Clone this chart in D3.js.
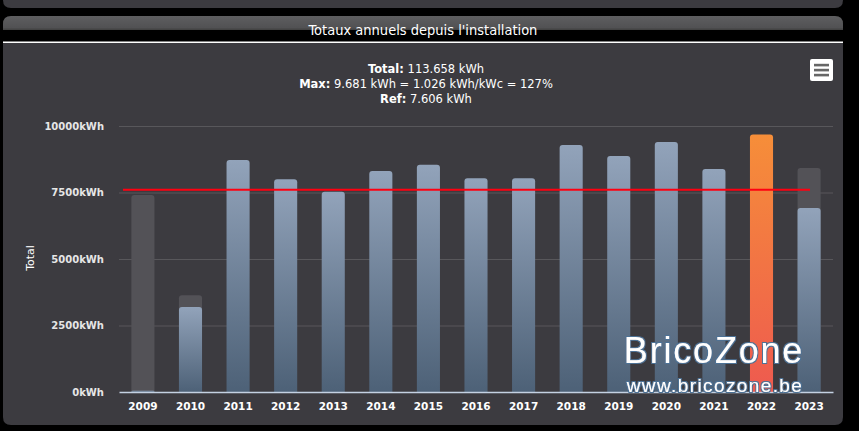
<!DOCTYPE html>
<html>
<head>
<meta charset="utf-8">
<script src="https://cdn.jsdelivr.net/npm/d3@7"></script>
<style>
  body { margin: 0; background: #000; }
  svg { display: block; }
</style>
</head>
<body>
<svg id="chart" width="859" height="431"></svg>
<script>
const years = ["2009","2010","2011","2012","2013","2014","2015","2016","2017","2018","2019","2020","2021","2022","2023"];
const produced = [50, 3195, 8722, 7996, 7530, 8308, 8545, 8034, 8040, 9286, 8872, 9398, 8383, 9681, 6917];
const expected = [7406, 3635, null, null, null, null, null, null, null, null, null, null, null, null, 8421];
const refValue = 7606;
const maxYear = "2022";
const yTicks = [0, 2500, 5000, 7500, 10000];

const svg = d3.select("#chart");
const [plotLeft, plotRight, plotTop, plotBottom] = [119, 833, 126, 392];

const defs = svg.append("defs");
const grad = (id, c1, c2) => {
    const g = defs.append("linearGradient").attr("id", id)
        .attr("x1", 0).attr("y1", 0).attr("x2", 0).attr("y2", 1);
    g.append("stop").attr("offset", "0%").attr("stop-color", c1);
    g.append("stop").attr("offset", "100%").attr("stop-color", c2);
};
grad("gBlue", "#92a3ba", "#4d6177");
grad("gOrange", "#f68e39", "#ee5a4f");
grad("gHead", "#5e5e60", "#4f4f51");
const glow = defs.append("filter").attr("id", "glow");
glow.append("feMorphology").attr("in", "SourceAlpha").attr("operator", "dilate").attr("radius", 1.2).attr("result", "d");
glow.append("feFlood").attr("flood-color", "#4d7296");
glow.append("feComposite").attr("in2", "d").attr("operator", "in").attr("result", "o");
const fm = glow.append("feMerge");
fm.append("feMergeNode").attr("in", "o");
fm.append("feMergeNode").attr("in", "SourceGraphic");

// panels
svg.append("path").attr("fill", "#3c3b40")
    .attr("d", "M3,0 H843 V0 Q843,8 835,8 H11 Q3,8 3,0 Z");
svg.append("path").attr("fill", "url(#gHead)")
    .attr("d", "M3,30 V24 Q3,16 11,16 H835 Q843,16 843,24 V30 Z");
svg.append("rect").attr("x", 3).attr("y", 28.5).attr("width", 840).attr("height", 1.5).attr("fill", "#444");
svg.append("text").attr("x", 423).attr("y", 34.5)
    .attr("text-anchor", "middle").attr("fill", "#fff")
    .attr("font-family", "'Liberation Sans Narrow', 'DejaVu Sans Condensed', sans-serif")
    .attr("font-size", 14.5)
    .text("Totaux annuels depuis l'installation");
svg.append("rect").attr("x", 3).attr("y", 41.5).attr("width", 840).attr("height", 1.5).attr("fill", "#fff");
svg.append("path").attr("fill", "#3c3b40")
    .attr("d", "M3,43 H843 V417 Q843,425 835,425 H11 Q3,425 3,417 Z");

// subtitle
const sub = svg.append("g")
    .attr("font-family", "'DejaVu Sans', sans-serif")
    .attr("font-size", 11.5).attr("fill", "#fff").attr("text-anchor", "middle");
[["Total:", " 113.658 kWh", 73], ["Max:", " 9.681 kWh = 1.026 kWh/kWc = 127%", 88], ["Ref:", " 7.606 kWh", 102.5]]
    .forEach(([b, t, yy]) => {
        const tx = sub.append("text").attr("x", 426).attr("y", yy);
        tx.append("tspan").attr("font-weight", "bold").text(b);
        tx.append("tspan").text(t);
    });

// menu icon
svg.append("rect").attr("x", 810).attr("y", 59).attr("width", 23).attr("height", 22).attr("rx", 2).attr("fill", "#fff");
[65, 70, 75].forEach(yy => svg.append("rect").attr("x", 814).attr("y", yy - 1.2).attr("width", 15).attr("height", 2.6).attr("fill", "#666"));

const x = d3.scaleBand().domain(years).range([plotLeft, plotRight]).paddingInner(0.515).paddingOuter(0.26);
const y = d3.scaleLinear().domain([0, 10000]).range([plotBottom, plotTop]);

// grid
svg.append("g").selectAll("line").data(yTicks.slice(1)).join("line")
    .attr("x1", plotLeft).attr("x2", plotRight)
    .attr("y1", d => y(d) + 0.5).attr("y2", d => y(d) + 0.5)
    .attr("stroke", "#58575b").attr("stroke-width", 1);

const yAxis = svg.append("g").attr("transform", `translate(${plotLeft},0)`)
    .call(d3.axisLeft(y).tickValues(yTicks).tickFormat(d => d + "kWh").tickSize(0).tickPadding(15));
yAxis.select(".domain").remove();
yAxis.selectAll("text").attr("fill", "#e6e6e6")
    .attr("font-family", "'DejaVu Sans', sans-serif").attr("font-size", 10).attr("font-weight", "bold");

svg.append("text").attr("transform", "translate(34,258) rotate(-90)")
    .attr("text-anchor", "middle").attr("fill", "#fff")
    .attr("font-family", "'DejaVu Sans', sans-serif").attr("font-size", 11)
    .text("Total");

const barPath = (x0, w, yTop, yBot, r) => {
    r = Math.min(r, yBot - yTop);
    return `M${x0},${yBot} V${yTop + r} Q${x0},${yTop} ${x0 + r},${yTop} H${x0 + w - r} Q${x0 + w},${yTop} ${x0 + w},${yTop + r} V${yBot} Z`;
};

// expected (grey) bars
svg.append("g").selectAll("path")
    .data(years.map((yr, i) => ({yr, v: expected[i]})).filter(d => d.v != null))
    .join("path")
    .attr("fill", "#535257")
    .attr("d", d => barPath(x(d.yr), x.bandwidth(), y(d.v), y(0), 3));

// produced bars
svg.append("g").selectAll("path")
    .data(years.map((yr, i) => ({yr, v: produced[i]})))
    .join("path")
    .attr("fill", d => d.yr === maxYear ? "url(#gOrange)" : "url(#gBlue)")
    .attr("d", d => barPath(x(d.yr), x.bandwidth(), y(d.v), y(0), 3));

// x axis
const xAxis = svg.append("g").attr("transform", `translate(0,${plotBottom})`)
    .call(d3.axisBottom(x).tickSize(0).tickPadding(11));
xAxis.select(".domain").attr("stroke", "#c4d1e2").attr("stroke-width", 1.3);
xAxis.selectAll("text").attr("fill", "#fff")
    .attr("font-family", "'DejaVu Sans', sans-serif").attr("font-size", 10.5).attr("font-weight", "bold");

// reference line
svg.append("line")
    .attr("x1", 123).attr("x2", 810)
    .attr("y1", y(refValue)).attr("y2", y(refValue))
    .attr("stroke", "#ff0010").attr("stroke-width", 2);

// watermark
const wm = svg.append("g").attr("fill", "#fff").attr("filter", "url(#glow)")
    .attr("font-family", "'Liberation Sans', Arial, sans-serif").attr("text-anchor", "middle");
wm.append("text").attr("x", 714).attr("y", 363).attr("font-size", 36).attr("letter-spacing", 1.8).text("BricoZone");
wm.append("text").attr("x", 715).attr("y", 392).attr("font-size", 19).attr("letter-spacing", 1.4).text("www.bricozone.be");
</script>
</body>
</html>
